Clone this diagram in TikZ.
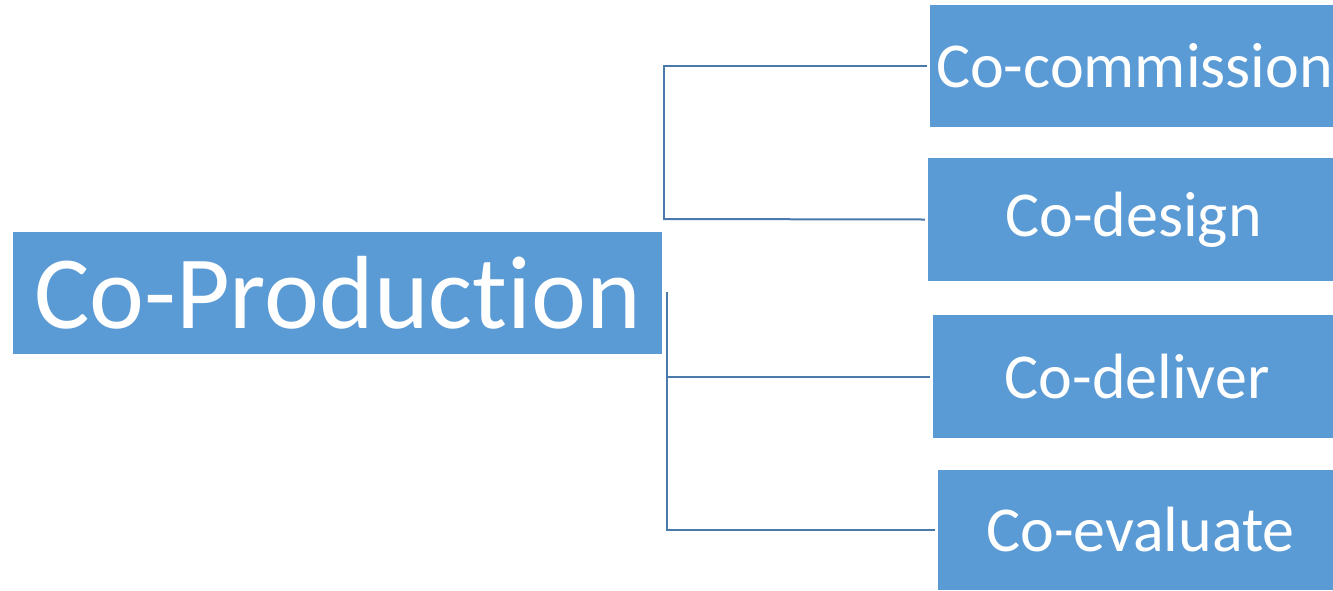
\documentclass[tikz,border=0pt]{standalone}
\usepackage{fontspec}
\setmainfont[Ligatures={NoCommon}]{Carlito}
\definecolor{boxblue}{HTML}{5B9BD5}
\definecolor{lineblue}{HTML}{4A7AAB}
\begin{document}
\begin{tikzpicture}[x=1pt,y=-1pt,
  box/.style={fill=boxblue,draw=none,text=white,inner sep=0pt,anchor=center},
  small/.style={font=\fontsize{64}{70}\selectfont},
  conn/.style={draw=lineblue,line width=2pt}]
\useasboundingbox (0,0) rectangle (1333,590);
\node[box,minimum width=649pt,minimum height=122pt,font=\fontsize{104}{110}\selectfont] (prod) at (337.5,293) {Co-Production};
\node[box,small,minimum width=403pt,minimum height=122pt] (comm) at (1131.5,66) {\hspace*{6pt}Co-commission};
\node[box,small,minimum width=405pt,minimum height=123pt] (design) at (1130.5,219.5) {\hspace*{6pt}Co-design};
\node[box,small,minimum width=400pt,minimum height=123pt] (deliver) at (1133,376.5) {\hspace*{8pt}Co-deliver};
\node[box,small,minimum width=395pt,minimum height=120pt] (eval) at (1135.5,530) {\hspace*{10pt}Co-evaluate};
\coordinate (t1) at (664,219);
\coordinate (t2) at (663,219);
\coordinate (t3) at (667,292);
\draw[conn] (t1) |- ([xshift=-3pt]comm.west);
\draw[conn] (t2) -- ([xshift=-3pt]design.west);
\draw[conn] (t3) |- ([xshift=-3pt]eval.west);
\draw[conn] (t3 |- deliver.west) -- ([xshift=-3pt]deliver.west);
\end{tikzpicture}
\end{document}
